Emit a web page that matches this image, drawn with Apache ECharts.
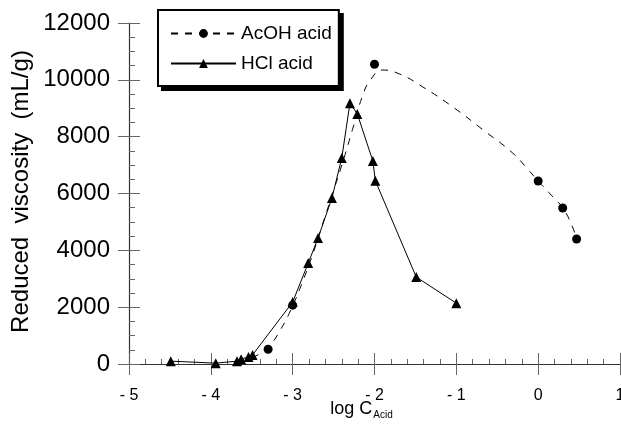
<!DOCTYPE html>
<html>
<head>
<meta charset="utf-8">
<script src="https://cdn.jsdelivr.net/npm/echarts@6/dist/echarts.min.js"></script>
<style>
  html, body { margin: 0; padding: 0; background: #fff; }
  #chart { width: 621px; height: 426px; }
</style>
</head>
<body>
<div id="chart"></div>
<script>
// AcOH measured points
const acohX = [-3.3, -3.0, -2.0, 0.0, 0.3, 0.47];
const acohY = [520, 2070, 10550, 6440, 5490, 4400];

// AcOH fitted (dashed) curve
const fitX = [-3.65, -3.5, -3.3, -3.15, -3.0, -2.87, -2.75, -2.63, -2.51, -2.38, -2.26, -2.15, -2.05, -1.9, -1.69, -1.41, -1.04, -0.67, -0.31, -0.12, 0.0, 0.18, 0.3, 0.41, 0.47];
const fitY = [0, 200, 600, 1200, 2050, 2960, 3900, 4960, 6020, 7180, 8340, 9400, 9990, 10345, 10200, 9750, 9040, 8230, 7420, 6830, 6440, 5880, 5490, 4890, 4400];

// HCl points
const hclX = [-4.49, -3.94, -3.68, -3.63, -3.54, -3.49, -3.0, -2.81, -2.69, -2.52, -2.4, -2.3, -2.21, -2.02, -1.99, -1.49, -1.0];
const hclY = [100, 30, 100, 170, 250, 320, 2180, 3550, 4430, 5840, 7250, 9180, 8800, 7140, 6450, 3060, 2140];

const legendNames = ["AcOH acid", "HCl acid"];

const xMin = -5, xMax = 1, xStep = 1;
const yMin = 0, yMax = 12000, yStep = 2000;

const pairs = (xs, ys) => xs.map((x, i) => [x, ys[i]]);

let chart = echarts.init(document.getElementById("chart"));

const font = "Liberation Sans";
const axisColor = "#333";
const tickColor = "#666";

// two identical grids: the second one only carries the outward half of the ticks
function makeGrid() {
  return { left: 129, right: 1, top: 23, bottom: 62, containLabel: false, outerBoundsMode: "none" };
}

// legend look, used twice: once as the box, once (offset, black) as its shadow
function makeLegend(left, top, fill, z) {
  return {
    orient: "vertical",
    left: left,
    top: top,
    z: z,
    padding: [14, 7, 13, 12],
    itemWidth: 65,
    itemHeight: 11,
    itemGap: 11,
    backgroundColor: fill,
    borderColor: "#000",
    borderWidth: 2,
    borderRadius: 0,
    selectedMode: false,
    textStyle: { fontFamily: font, fontSize: 19, color: "#000" },
    data: legendNames
  };
}

chart.setOption({
  animation: false,
  grid: [makeGrid(), makeGrid()],
  legend: [makeLegend(158, 10, "#fff", 8), makeLegend(162, 14, "#000", 7)],
  xAxis: [
    {
      type: "value",
      min: xMin,
      max: xMax,
      interval: xStep,
      name: "{a|log C}{b|Acid}",
      nameLocation: "middle",
      nameGap: 36,
      nameMoveOverlap: false,
      nameTextStyle: {
        padding: [0, 26, 0, 0],
        rich: {
          a: { fontFamily: font, fontSize: 18, lineHeight: 20, color: "#000", verticalAlign: "top" },
          b: { fontFamily: font, fontSize: 10, lineHeight: 12, color: "#000", verticalAlign: "bottom", padding: [26, 0, 0, 1] }
        }
      },
      splitLine: { show: false },
      axisLine: { onZero: false, lineStyle: { color: axisColor, width: 1.2 } },
      axisTick: { inside: true, length: 11, lineStyle: { color: tickColor } },
      minorTick: { show: true, splitNumber: 5, length: 5, lineStyle: { color: tickColor } },
      axisLabel: {
        margin: 24,
        fontFamily: font,
        fontSize: 16,
        color: "#000",
        formatter: v => (v < 0 ? "- " + Math.abs(v) : String(v))
      }
    },
    {
      type: "value",
      gridIndex: 1,
      min: xMin,
      max: xMax,
      interval: xStep,
      position: "bottom",
      splitLine: { show: false },
      axisLine: { show: false, onZero: false },
      axisTick: { inside: false, length: 11, lineStyle: { color: tickColor } },
      axisLabel: { show: false }
    }
  ],
  yAxis: [
    {
      type: "value",
      min: yMin,
      max: yMax,
      interval: yStep,
      name: "Reduced  viscosity  (mL/g)",
      nameLocation: "middle",
      nameGap: 96,
      nameRotate: 90,
      nameMoveOverlap: false,
      nameTextStyle: { fontFamily: font, fontSize: 24, color: "#000", padding: [0, 0, 0, 4] },
      splitLine: { show: false },
      axisLine: { show: true, onZero: false, lineStyle: { color: axisColor, width: 1.2 } },
      axisTick: { inside: true, length: 11, lineStyle: { color: tickColor } },
      minorTick: { show: true, splitNumber: 4, length: 6, lineStyle: { color: tickColor } },
      axisLabel: { margin: 19, fontFamily: font, fontSize: 24, color: "#000", formatter: v => String(v) }
    },
    {
      type: "value",
      gridIndex: 1,
      min: yMin,
      max: yMax,
      interval: yStep,
      position: "left",
      splitLine: { show: false },
      axisLine: { show: false, onZero: false },
      axisTick: { inside: false, length: 11, lineStyle: { color: tickColor } },
      axisLabel: { show: false }
    }
  ],
  series: [
    {
      name: "AcOH acid",
      type: "line",
      smooth: true,
      data: pairs(fitX, fitY),
      symbol: "circle",
      showSymbol: false,
      color: "#000",
      itemStyle: { color: "#000" },
      lineStyle: { color: "#000", width: 1, type: [7, 7] }
    },
    {
      name: "AcOH acid",
      type: "scatter",
      data: pairs(acohX, acohY),
      symbol: "circle",
      symbolSize: 9,
      color: "#000",
      itemStyle: { color: "#000", opacity: 1 },
      z: 5
    },
    {
      name: "HCl acid",
      type: "line",
      data: pairs(hclX, hclY),
      symbol: "triangle",
      symbolSize: 10,
      color: "#000",
      lineStyle: { color: "#000", width: 1 },
      itemStyle: { color: "#000" },
      z: 4
    }
  ]
});
</script>
</body>
</html>
